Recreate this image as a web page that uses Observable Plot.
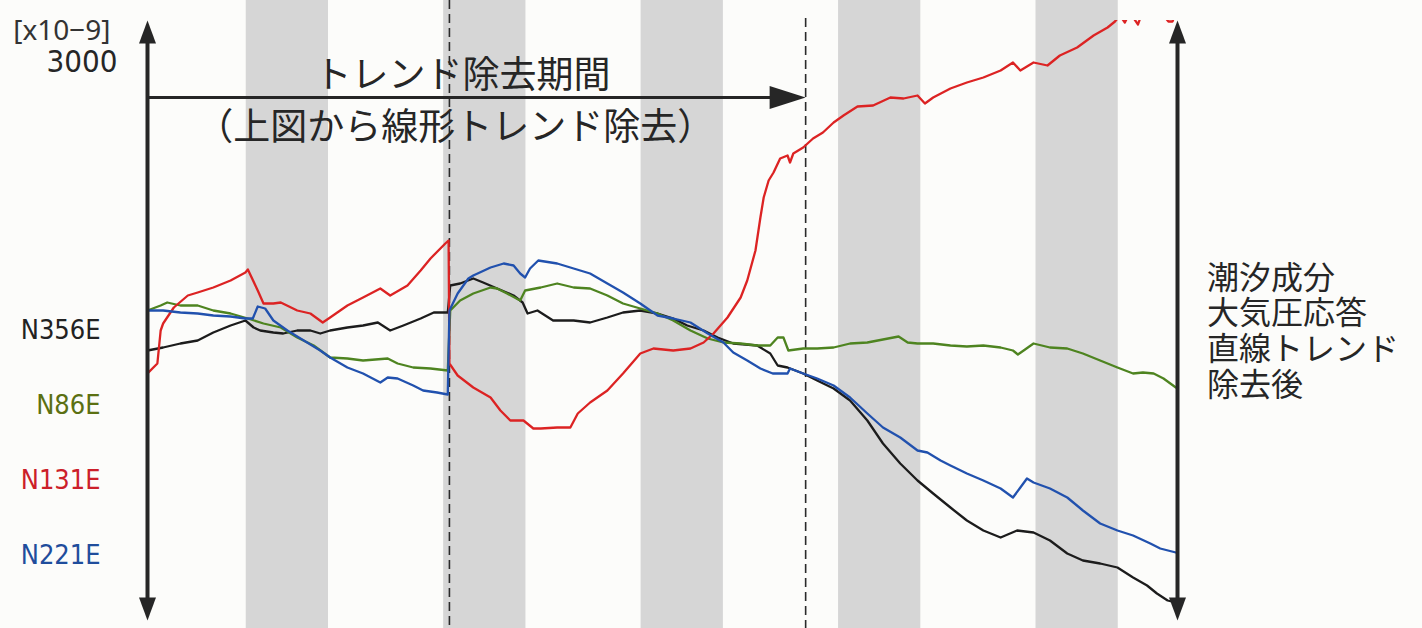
<!DOCTYPE html>
<html><head><meta charset="utf-8">
<script src="https://cdn.jsdelivr.net/npm/d3@7"></script>
<script src="https://cdn.jsdelivr.net/npm/@observablehq/plot@0.6"></script>
<style>
html,body{margin:0;padding:0;background:#fcfcfa;}
#chart svg{display:block;}
</style></head><body><div id="chart"></div>
<script>
// time in hours since start, strain in x10^-9 (relative)
const seriesNames = ["N356E", "N86E", "N131E", "N221E"];
const lineColors = ["#1c1c1c", "#4e8420", "#dc2323", "#2151ae"];
const labelColors = ["#222222", "#5b7012", "#cc1f2a", "#1f4d9c"];

const N356E = [[0,-200],[1.9,-185],[4.0,-165],[6.1,-150],[8.0,-110],[10.1,-75],[11.9,-50],[12.9,-85],[13.7,-100],[15.3,-110],[16.5,-115],[18.2,-100],[19.8,-100],[21.0,-115],[22.2,-100],[24.3,-85],[26.2,-75],[28.0,-60],[29.5,-100],[31.1,-75],[33.2,-40],[34.8,-10],[36.5,-10],[36.8,125],[38.0,135],[39.6,160],[40.8,140],[42.5,110],[44.5,75],[45.6,40],[46.2,-15],[47.4,0],[49.3,-50],[51.8,-50],[53.8,-60],[55.9,-35],[57.8,-10],[59.9,0],[62.0,-15],[63.9,-40],[65.6,-75],[67.6,-100],[69.3,-135],[71.2,-165],[74.1,-175],[75.7,-215],[76.6,-275],[77.8,-285],[79.7,-315],[81.4,-350],[83.4,-390],[85.4,-450],[87.5,-550],[89.4,-665],[91.5,-765],[93.6,-850],[95.5,-915],[97.6,-985],[99.6,-1050],[101.6,-1100],[103.7,-1135],[105.7,-1100],[107.7,-1110],[109.7,-1150],[111.8,-1215],[113.7,-1250],[115.8,-1265],[117.9,-1285],[119.8,-1335],[121.5,-1375],[122.7,-1415],[124.0,-1450],[125.0,-1460]];

const N86E = [[0,0],[1.6,25],[2.4,40],[4.0,25],[6.1,25],[8.0,0],[10.1,-15],[12.2,-40],[14.1,-65],[16.2,-85],[18.2,-135],[20.2,-175],[22.2,-235],[24.3,-240],[26.2,-250],[29.2,-240],[30.4,-265],[32.3,-285],[34.4,-290],[36.5,-300],[36.8,0],[38.0,50],[39.6,85],[41.7,115],[42.5,110],[43.7,85],[45.3,50],[45.9,100],[47.8,115],[49.8,135],[51.8,115],[53.8,110],[55.9,75],[57.8,35],[59.9,10],[62.0,-15],[63.9,-50],[66.0,-100],[68.1,-140],[70.0,-160],[72.1,-165],[74.1,-175],[75.7,-175],[76.6,-135],[77.3,-135],[77.9,-200],[79.7,-190],[81.4,-190],[83.4,-185],[85.4,-165],[87.5,-160],[89.4,-145],[91.3,-130],[92.4,-160],[93.6,-165],[95.5,-165],[97.6,-175],[99.6,-180],[101.6,-175],[103.7,-185],[105.2,-200],[105.8,-220],[106.5,-200],[107.7,-165],[109.7,-185],[111.8,-190],[113.7,-215],[115.8,-250],[117.9,-285],[119.8,-315],[121.0,-310],[122.3,-315],[123.5,-340],[125.0,-385]];

const N131E = [[0,-315],[1.2,-265],[1.6,-100],[1.9,-65],[3.2,15],[4.9,75],[6.1,90],[8.0,115],[10.1,150],[11.9,190],[12.2,205],[13.4,100],[14.1,35],[15.3,35],[16.2,40],[18.2,0],[19.8,-15],[21.3,-60],[22.2,-35],[24.3,25],[26.2,65],[28.3,110],[29.5,75],[31.6,125],[33.2,200],[34.4,260],[36.2,335],[36.6,350],[36.7,-265],[37.7,-325],[39.6,-385],[41.7,-435],[42.9,-500],[44.1,-550],[45.7,-550],[46.9,-590],[47.8,-590],[49.8,-585],[51.4,-585],[52.3,-515],[53.8,-460],[55.9,-400],[57.8,-315],[59.9,-215],[61.5,-190],[63.9,-200],[66.0,-190],[67.6,-160],[68.8,-115],[70.5,-35],[72.1,65],[72.9,150],[73.9,300],[74.5,465],[74.9,565],[75.5,650],[76.1,690],[76.9,760],[77.8,775],[78.1,740],[78.5,785],[79.7,815],[80.9,860],[82.1,890],[83.4,940],[84.6,975],[86.3,1020],[88.2,1025],[90.3,1065],[91.9,1060],[93.6,1075],[94.5,1035],[95.5,1065],[97.6,1110],[99.6,1140],[101.6,1165],[103.7,1200],[105.2,1240],[106.1,1200],[107.7,1240],[109.4,1225],[110.9,1275],[113.0,1315],[115.0,1375],[116.7,1415],[117.6,1445],[118.2,1475],[118.8,1440],[119.4,1490],[120.4,1430],[120.9,1490],[122.5,1525],[124.1,1445],[124.6,1445],[125.1,1510]];

const N221E = [[0,0],[1.9,0],[4.0,-10],[6.1,-15],[8.0,-25],[10.1,-30],[11.9,-40],[12.8,-40],[13.4,20],[14.3,10],[15.3,-50],[17.0,-100],[19.0,-150],[21.0,-200],[22.2,-235],[24.3,-285],[26.2,-315],[28.3,-360],[29.2,-335],[30.4,-340],[32.3,-375],[33.5,-400],[35.2,-410],[36.5,-420],[36.7,0],[37.7,85],[39.0,160],[39.6,175],[41.7,215],[43.3,235],[44.5,225],[45.3,185],[45.9,165],[46.5,210],[47.5,250],[49.8,235],[51.8,210],[53.8,185],[55.9,135],[57.8,90],[59.9,35],[62.0,-25],[63.9,-40],[66.0,-60],[68.1,-115],[70.0,-160],[71.2,-210],[72.9,-250],[74.5,-290],[76.0,-315],[77.8,-315],[78.1,-290],[79.7,-315],[81.4,-340],[83.4,-375],[85.4,-435],[87.5,-515],[89.4,-585],[91.5,-635],[93.6,-700],[94.8,-710],[96.4,-750],[97.6,-775],[99.6,-815],[101.6,-850],[103.7,-890],[105.2,-935],[106.1,-885],[106.9,-840],[107.7,-860],[109.7,-890],[111.8,-935],[113.7,-1000],[115.8,-1065],[117.9,-1100],[119.8,-1125],[121.9,-1165],[123.1,-1190],[125.0,-1210]];

const seriesData = [N356E, N86E, N131E, N221E];
const drawOrder = [0, 1, 2, 3];

// shaded periods (start hour) and their length
const bandStarts = [12, 36, 60, 84, 108];
const bandHours = 10;
// detrending period boundaries (hours)
const periodBounds = [36.7, 80];
const scaleBarLength = 3000;
const scaleLabel = "3000";
const unitLabel = "[x10\u22129]";
const periodTitle = "トレンド除去期間";
const periodNote = "（上図から線形トレンド除去）";
const sideNoteLines = ["潮汐成分", "大気圧応答", "直線トレンド", "除去後"];

const tEnd = 125.2;
const yTop = 1450, yBottom = -1590, yPageTop = 1550;
const barTop = yTop, barBottom = yTop - scaleBarLength;
const ink = "#262626";
const narrow = "'Liberation Sans Narrow','DejaVu Sans Condensed',sans-serif";
const jp = "'Noto Sans CJK JP','Noto Sans',sans-serif";

const headUp = {draw(c){c.moveTo(0,0);c.lineTo(8.5,23);c.lineTo(-8.5,23);c.closePath();}};
const headDown = {draw(c){c.moveTo(0,0);c.lineTo(8.5,-23);c.lineTo(-8.5,-23);c.closePath();}};
const headRight = {draw(c){c.moveTo(0,0);c.lineTo(-36,-11.5);c.lineTo(-36,11.5);c.closePath();}};
const arrowLevel = 1065;

const marks = [
  Plot.rect(bandStarts, {x1: d => d, x2: d => d + bandHours, y1: () => yBottom, y2: () => yPageTop, fill: "#d6d6d6"}),
  Plot.ruleX(periodBounds, {x: d => d, y1: (d, i) => i === 0 ? yPageTop : yTop + 10, y2: () => yBottom, stroke: "#2a2a2a", strokeWidth: 1.6, strokeDasharray: "9,5"}),
  ...drawOrder.map(i => Plot.line(seriesData[i], {x: d => d[0], y: d => d[1], stroke: lineColors[i], strokeWidth: 2.3, clip: true})),
  Plot.ruleX([0, tEnd], {x: d => d, y1: () => barTop, y2: () => barBottom, stroke: ink, strokeWidth: 4, insetTop: 14, insetBottom: 14}),
  Plot.dot([0, tEnd], {x: d => d, y: () => barTop, symbol: headUp, fill: ink, stroke: "none"}),
  Plot.dot([0, tEnd], {x: d => d, y: () => barBottom, symbol: headDown, fill: ink, stroke: "none"}),
  Plot.ruleY([arrowLevel], {y: d => d, x1: () => 0, x2: () => periodBounds[1], stroke: ink, strokeWidth: 3, insetRight: 30}),
  Plot.dot([periodBounds[1]], {x: d => d, y: () => arrowLevel, symbol: headRight, fill: ink, stroke: "none"}),
  Plot.text([periodTitle], {x: () => 38.3, y: () => 1170, text: d => d, fontSize: 37, fontFamily: jp, fill: ink}),
  Plot.text([periodNote], {x: () => 37.4, y: () => 910, text: d => d, fontSize: 37, fontFamily: jp, fill: ink}),
  Plot.text(sideNoteLines, {x: () => 128.8, y: (d, i) => 160 - i * 178, text: d => d, fontSize: 32, textAnchor: "start", fontFamily: jp, fill: ink}),
  Plot.text([unitLabel], {x: () => -4.5, y: () => 1395, text: d => d, fontSize: 28, textAnchor: "end", fontFamily: "'Noto Sans',sans-serif", fill: "#333"}),
  Plot.text([scaleLabel], {x: () => -3.65, y: () => 1240, text: d => d, fontSize: 31, textAnchor: "end", fontFamily: narrow, fill: ink}),
  ...seriesNames.map((name, i) => Plot.text([name], {x: () => -5.7, y: () => -100 - i * 375, text: d => d, fontSize: 27, textAnchor: "end", fontFamily: narrow, fill: labelColors[i]}))
];

const chart = Plot.plot({
  width: 1422, height: 628,
  marginLeft: 147, marginRight: 245, marginTop: 20, marginBottom: 0,
  x: {domain: [0, tEnd], axis: null},
  y: {domain: [yBottom, yTop], axis: null},
  style: {background: "#fcfcfa", overflow: "visible"},
  marks
});
document.getElementById("chart").appendChild(chart);
</script></body></html>
